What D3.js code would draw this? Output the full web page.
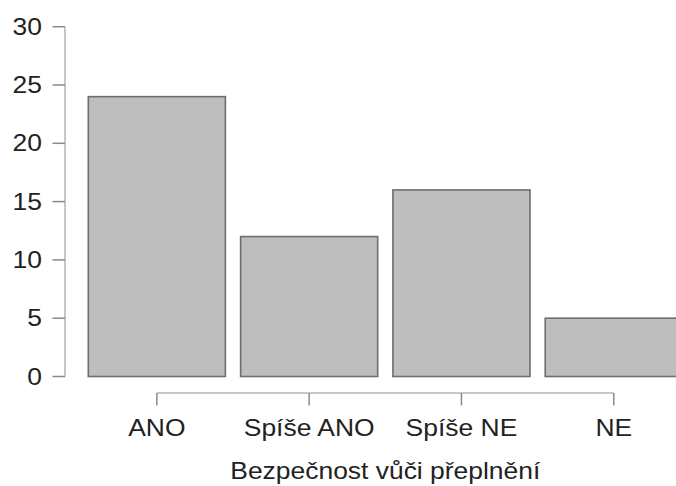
<!DOCTYPE html>
<html lang="cs">
<head>
    <meta charset="utf-8">
    <title>Bezpečnost vůči přeplnění</title>
    <script src="https://d3js.org/d3.v7.min.js"></script>
    <style>
        html, body { margin: 0; padding: 0; background: #fff; overflow: hidden; }
        text { font-family: "Liberation Sans", Arial, Helvetica, sans-serif; fill: #222; }
    </style>
</head>
<body>
    <div id="chart"></div>
    <script>

        // data
        const categories = ["ANO", "Spíše ANO", "Spíše NE", "NE"];
        const counts = [24, 12, 16, 5];
        const yTicks = [0, 5, 10, 15, 20, 25, 30];
        const xTitle = "Bezpečnost vůči přeplnění";

        const W = 676, H = 486;
        const fontSize = 23, stretch = 1.15;   // the text in the picture is a bit wide

        const svg = d3.select("#chart")
            .append("svg")
            .attr("width", W)
            .attr("height", H);

        // scales
        const x = d3.scaleBand()
            .domain(categories)
            .range([80.7, 80.7 + 4 * 152.3])
            .paddingInner(0.1)
            .paddingOuter(0.05);

        const y = d3.scaleLinear()
            .domain([0, 30])
            .range([376.5, 26.7]);

        // bars
        svg.selectAll("rect.bar")
            .data(counts)
            .enter()
                .append("rect")
                .attr("class", "bar")
                .attr("x", (d, i) => x(categories[i]))
                .attr("y", d => y(d))
                .attr("width", x.bandwidth())
                .attr("height", d => y(0) - y(d))
                .style("fill", "#bebebe")
                .style("stroke", "#6e6e6e")
                .style("stroke-width", 1.6);

        // y axis (R style: line only from first to last tick)
        const yAxisX = 65;
        const yAxis = svg.append("g").attr("transform", `translate(${yAxisX},0)`);
        yAxis.append("line")
            .attr("x1", 0).attr("x2", 0)
            .attr("y1", y(yTicks[0])).attr("y2", y(yTicks[yTicks.length - 1]))
            .style("stroke", "#b4b4b4").style("stroke-width", 1.5);
        const yt = yAxis.selectAll("g.tick")
            .data(yTicks)
            .enter()
                .append("g")
                .attr("transform", d => `translate(0,${y(d)})`);
        yt.append("line")
            .attr("x1", -12.5).attr("x2", 0)
            .style("stroke", "#8a8a8a").style("stroke-width", 1.5);
        yt.append("text")
            .attr("transform", `translate(-23,0) scale(${stretch},1)`)
            .attr("text-anchor", "end")
            .attr("dy", "0.35em")
            .style("font-size", fontSize + "px")
            .text(d => d);

        // x axis
        const xAxisY = 393;
        const centers = categories.map(c => x(c) + x.bandwidth() / 2);
        const xAxis = svg.append("g").attr("transform", `translate(0,${xAxisY})`);
        xAxis.append("line")
            .attr("x1", centers[0]).attr("x2", centers[centers.length - 1])
            .style("stroke", "#b4b4b4").style("stroke-width", 1.5);
        const xt = xAxis.selectAll("g.tick")
            .data(categories)
            .enter()
                .append("g")
                .attr("transform", d => `translate(${x(d) + x.bandwidth() / 2},0)`);
        xt.append("line")
            .attr("y1", 0).attr("y2", 12.5)
            .style("stroke", "#8a8a8a").style("stroke-width", 1.5);
        xt.append("text")
            .attr("transform", `translate(0,43) scale(${stretch},1)`)
            .attr("text-anchor", "middle")
            .style("font-size", fontSize + "px")
            .text(d => d);

        // x axis title
        svg.append("text")
            .attr("transform", `translate(${(centers[0] + centers[3]) / 2},479) scale(${stretch},1)`)
            .attr("text-anchor", "middle")
            .style("font-size", fontSize + "px")
            .text(xTitle);

    </script>
</body>
</html>
